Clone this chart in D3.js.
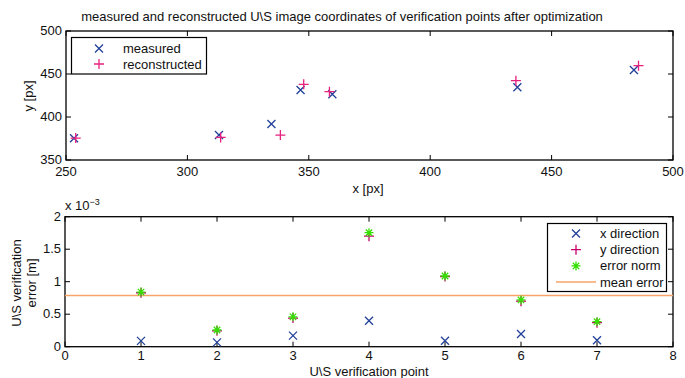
<!DOCTYPE html>
<html>
<head>
<meta charset="utf-8">
<script src="https://cdn.jsdelivr.net/npm/d3@7"></script>
<style>
  body { margin: 0; background: #fff; }
  svg { font-family: "Liberation Sans", Arial, sans-serif; }
  text { fill: #111; }
</style>
</head>
<body>
<svg id="chart" width="685" height="378"></svg>
<script>
// top plot: image coordinates [px]
const measuredX = [253.3, 313.0, 334.6, 346.6, 359.7, 435.9, 483.9];
const measuredY = [375.2, 379.0, 391.9, 431.4, 426.4, 434.5, 454.7];
const reconX = [254.0, 313.7, 338.3, 347.9, 358.5, 435.3, 485.8];
const reconY = [375.5, 376.3, 379.0, 438.0, 429.4, 442.2, 459.7];
const topXTicks = [250, 300, 350, 400, 450, 500];
const topYTicks = [350, 400, 450, 500];

// bottom plot: verification errors, in units of 1e-3 m
const points = [1, 2, 3, 4, 5, 6, 7];
const errX = [0.09, 0.067, 0.17, 0.40, 0.092, 0.195, 0.10];
const errY = [0.83, 0.245, 0.44, 1.70, 1.08, 0.70, 0.37];
const errNorm = [0.84, 0.257, 0.46, 1.755, 1.088, 0.72, 0.385];
const meanErr = 0.786;
const botXTicks = [0, 1, 2, 3, 4, 5, 6, 7, 8];
const botYTicks = [0, 0.5, 1, 1.5, 2];

const blue = '#21409a', magenta = '#e8207e', darkMagenta = '#c8006e',
      green = '#33e000', orange = '#f7a468';
const fs = 13;

const svg = d3.select('#chart');

// marker drawing helpers
function marker(g, type, x, y, color) {
  const s = 4;
  if (type === 'x') {
    g.append('path').attr('d', `M${x - s},${y - s}L${x + s},${y + s}M${x - s},${y + s}L${x + s},${y - s}`)
      .attr('stroke', color).attr('stroke-width', 1.3).attr('fill', 'none');
  } else if (type === '+') {
    const p = 5;
    g.append('path').attr('d', `M${x - p},${y}L${x + p},${y}M${x},${y - p}L${x},${y + p}`)
      .attr('stroke', color).attr('stroke-width', 1.3).attr('fill', 'none');
  } else if (type === '*') {
    const p = 4.5, q = 3.2;
    g.append('path').attr('d', `M${x - p},${y}L${x + p},${y}M${x},${y - p}L${x},${y + p}M${x - q},${y - q}L${x + q},${y + q}M${x - q},${y + q}L${x + q},${y - q}`)
      .attr('stroke', color).attr('stroke-width', 1.3).attr('fill', 'none');
  }
}

function frame(xScale, yScale, xTicks, yTicks, xLabelOffset) {
  const [x0, x1] = xScale.range();
  const [y1, y0] = yScale.range();
  const g = svg.append('g');
  g.append('rect').attr('x', x0).attr('y', y0).attr('width', x1 - x0).attr('height', y1 - y0)
    .attr('fill', 'none').attr('stroke', '#000').attr('stroke-width', 1.3);
  const tl = 5;
  xTicks.forEach(t => {
    const x = xScale(t);
    g.append('line').attr('x1', x).attr('x2', x).attr('y1', y1).attr('y2', y1 - tl).attr('stroke', '#000');
    g.append('line').attr('x1', x).attr('x2', x).attr('y1', y0).attr('y2', y0 + tl).attr('stroke', '#000');
    g.append('text').attr('x', x).attr('y', y1 + xLabelOffset).attr('text-anchor', 'middle')
      .attr('font-size', fs).text(t);
  });
  yTicks.forEach(t => {
    const y = yScale(t);
    g.append('line').attr('x1', x0).attr('x2', x0 + tl).attr('y1', y).attr('y2', y).attr('stroke', '#000');
    g.append('line').attr('x1', x1).attr('x2', x1 - tl).attr('y1', y).attr('y2', y).attr('stroke', '#000');
    g.append('text').attr('x', x0 - 4).attr('y', y + 4).attr('text-anchor', 'end')
      .attr('font-size', fs).text(t);
  });
  return g;
}

// ---------- top plot ----------
const xTop = d3.scaleLinear().domain([250, 500]).range([66, 673]);
const yTop = d3.scaleLinear().domain([350, 500]).range([160, 31]);
frame(xTop, yTop, topXTicks, topYTicks, 15.5);

const topMarks = svg.append('g');
measuredX.forEach((v, i) => marker(topMarks, 'x', xTop(v), yTop(measuredY[i]), blue));
reconX.forEach((v, i) => marker(topMarks, '+', xTop(v), yTop(reconY[i]), magenta));

svg.append('text').attr('x', 342).attr('y', 21).attr('text-anchor', 'middle').attr('font-size', 13)
  .text('measured and reconstructed U\\S image coordinates of verification points after optimization');
svg.append('text').attr('x', 368).attr('y', 193).attr('text-anchor', 'middle').attr('font-size', fs).text('x [px]');
svg.append('text').attr('transform', 'translate(33,96) rotate(-90)').attr('text-anchor', 'middle')
  .attr('font-size', fs).text('y [px]');

// top legend
const lg1 = svg.append('g');
lg1.append('rect').attr('x', 71.5).attr('y', 37.5).attr('width', 135).attr('height', 36.5)
  .attr('fill', '#fff').attr('stroke', '#000').attr('stroke-width', 1.2);
marker(lg1, 'x', 99, 48.5, blue);
marker(lg1, '+', 99, 64, magenta);
lg1.append('text').attr('x', 123).attr('y', 53).attr('font-size', fs).text('measured');
lg1.append('text').attr('x', 123).attr('y', 68.5).attr('font-size', fs).text('reconstructed');

// ---------- bottom plot ----------
const xBot = d3.scaleLinear().domain([0, 8]).range([65, 673]);
const yBot = d3.scaleLinear().domain([0, 2]).range([346.7, 216.7]);
frame(xBot, yBot, botXTicks, botYTicks, 13.5);

const [bx0, bx1] = xBot.range();
svg.append('line').attr('x1', bx0).attr('x2', bx1).attr('y1', yBot(meanErr)).attr('y2', yBot(meanErr))
  .attr('stroke', orange).attr('stroke-width', 1.5);

const botMarks = svg.append('g');
points.forEach((p, i) => marker(botMarks, 'x', xBot(p), yBot(errX[i]), blue));
points.forEach((p, i) => marker(botMarks, '+', xBot(p), yBot(errY[i]), darkMagenta));
points.forEach((p, i) => marker(botMarks, '*', xBot(p), yBot(errNorm[i]), green));

const ex = svg.append('text').attr('x', 65).attr('y', 210).attr('font-size', fs);
ex.append('tspan').text('x 10');
ex.append('tspan').attr('dy', -5).attr('font-size', 9).text('\u22123');

svg.append('text').attr('x', 369).attr('y', 375.5).attr('text-anchor', 'middle').attr('font-size', fs)
  .text('U\\S verification point');
const yl = svg.append('text').attr('transform', 'translate(21,283) rotate(-90)').attr('text-anchor', 'middle')
  .attr('font-size', fs);
yl.append('tspan').attr('x', 0).attr('dy', 0).text('U\\S verification');
yl.append('tspan').attr('x', 0).attr('dy', 15).text('error [m]');

// bottom legend
const lg2 = svg.append('g');
lg2.append('rect').attr('x', 547.5).attr('y', 223.5).attr('width', 119).attr('height', 68)
  .attr('fill', '#fff').attr('stroke', '#000').attr('stroke-width', 1.2);
const items = [
  { label: 'x direction', type: 'x', color: blue },
  { label: 'y direction', type: '+', color: darkMagenta },
  { label: 'error norm', type: '*', color: green },
  { label: 'mean error', type: 'line', color: orange }
];
items.forEach((d, i) => {
  const y = 233.5 + i * 16.2;
  if (d.type === 'line') {
    lg2.append('line').attr('x1', 556).attr('x2', 596).attr('y1', y).attr('y2', y)
      .attr('stroke', d.color).attr('stroke-width', 1.5);
  } else {
    marker(lg2, d.type, 576, y, d.color);
  }
  lg2.append('text').attr('x', 600).attr('y', y + 4.5).attr('font-size', fs).text(d.label);
});
</script>
</body>
</html>
